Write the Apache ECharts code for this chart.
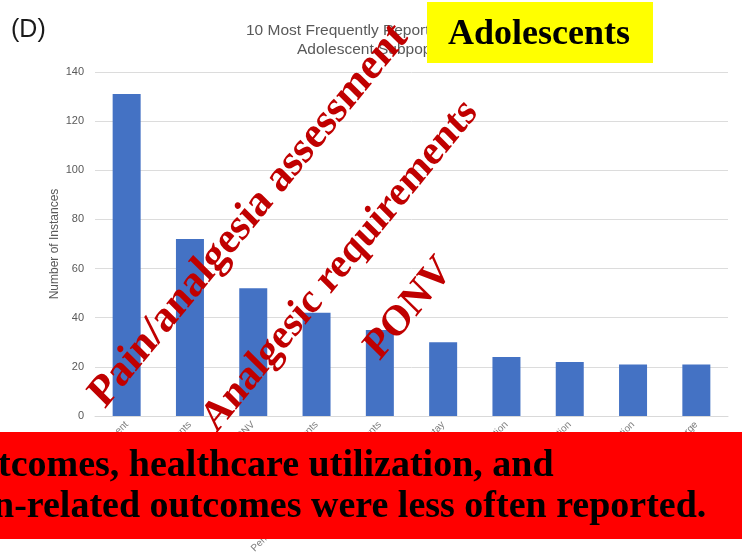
<!DOCTYPE html>
<html>
<head>
<meta charset="utf-8">
<script src="https://cdn.jsdelivr.net/npm/echarts@6/dist/echarts.min.js"></script>
<style>
  html, body { margin: 0; padding: 0; background: #ffffff; }
  #chart { width: 742px; height: 557px; }
</style>
</head>
<body>
<div id="chart"></div>
<script>
// Outcome categories and how often each was reported
const categories = [
  'Pain/analgesia assessment',
  'Analgesic requirements',
  'PONV',
  'Adverse events',
  'Perioperative respiratory adverse events',
  'Length of stay',
  'Sedation',
  'Emergence agitation',
  'Patient satisfaction',
  'Time to discharge'
];
const instances = [131, 72, 52, 42, 35, 30, 24, 22, 21, 21];

// Value axis range
const yMin = 0;
const yMax = 140;
const yStep = 20;

// Text blocks
const panelTag = '(D)';
const titleLines = ['10 Most Frequently Reported Outcomes in the', 'Adolescent Subpopulation'];
const groupTag = 'Adolescents';
const highlights = ['Pain/analgesia assessment', 'Analgesic requirements', 'PONV'];
const noteLines = ['tcomes, healthcare utilization, and', 'n-related outcomes were less often reported.'];

const deg = Math.PI / 180;
const sans = '"Liberation Sans", Arial, sans-serif';
const serif = '"Liberation Serif", "Times New Roman", serif';

// Diagonal call-outs: tilted text inside a group that is stretched vertically
const highlightPos = [
  { x: 249, y: 216, r: 48, size: 41 },
  { x: 340, y: 266, r: 48, size: 39 },
  { x: 409, y: 309, r: 48, size: 39 }
];
const stretchY = 1.1;

const chart = echarts.init(document.getElementById('chart'), null, { renderer: 'canvas' });

const graphics = [
  {
    type: 'text', x: 11, y: 30, z: 10,
    style: { text: panelTag, fill: '#1a1a1a', font: '25px ' + sans, textAlign: 'left', textVerticalAlign: 'middle' }
  },
  {
    type: 'text', x: 246, y: 31, z: 10,
    style: { text: titleLines[0], fill: '#595959', font: '15.5px ' + sans, textAlign: 'left', textVerticalAlign: 'middle' }
  },
  {
    type: 'text', x: 297, y: 50, z: 10,
    style: { text: titleLines[1], fill: '#595959', font: '15.5px ' + sans, textAlign: 'left', textVerticalAlign: 'middle' }
  }
];

highlights.forEach(function (label, i) {
  const p = highlightPos[i];
  graphics.push({
    type: 'group', x: p.x, y: p.y, scaleY: stretchY, z: 20,
    children: [{
      type: 'text', x: 0, y: 0, rotation: p.r * deg, z: 20,
      style: { text: label, fill: '#c00000', font: 'bold ' + p.size + 'px ' + serif, textAlign: 'center', textVerticalAlign: 'middle' }
    }]
  });
});

graphics.push(
  {
    type: 'rect', z: 30,
    shape: { x: 427, y: 2, width: 226, height: 61 },
    style: { fill: '#ffff00' }
  },
  {
    type: 'text', x: 539, y: 35, z: 31,
    style: { text: groupTag, fill: '#000000', font: 'bold 36px ' + serif, textAlign: 'center', textVerticalAlign: 'middle' }
  },
  {
    type: 'rect', z: 40,
    shape: { x: 0, y: 432, width: 742, height: 107 },
    style: { fill: '#ff0000' }
  },
  {
    type: 'text', x: -2, y: 466, z: 41,
    style: { text: noteLines[0], fill: '#000000', font: 'bold 38px ' + serif, textAlign: 'left', textVerticalAlign: 'middle' }
  },
  {
    type: 'text', x: -7, y: 507, z: 41,
    style: { text: noteLines[1], fill: '#000000', font: 'bold 38px ' + serif, textAlign: 'left', textVerticalAlign: 'middle' }
  }
);

chart.setOption({
  backgroundColor: '#ffffff',
  animation: false,
  grid: { left: 95, right: 14, top: 72, bottom: 141, containLabel: false },
  xAxis: {
    type: 'category',
    data: categories,
    axisLine: { show: true, lineStyle: { color: '#d9d9d9', width: 1 } },
    axisTick: { show: false },
    axisLabel: {
      interval: 0, rotate: 45, margin: 7,
      fontSize: 10, color: '#7f7f7f', fontFamily: sans
    }
  },
  yAxis: {
    type: 'value',
    min: yMin, max: yMax, interval: yStep,
    name: 'Number of Instances',
    nameLocation: 'middle',
    nameRotate: 90,
    nameGap: 34,
    nameMoveOverlap: false,
    nameTextStyle: { fontSize: 12, color: '#595959', fontFamily: sans },
    axisLine: { show: false },
    axisTick: { show: false },
    axisLabel: { margin: 11, fontSize: 11, color: '#595959', fontFamily: sans },
    splitLine: { lineStyle: { color: '#dcdcdc', width: 1 } }
  },
  series: [{
    type: 'bar',
    data: instances,
    barWidth: 28,
    itemStyle: { color: '#4472c4' }
  }],
  graphic: graphics
});
</script>
</body>
</html>
